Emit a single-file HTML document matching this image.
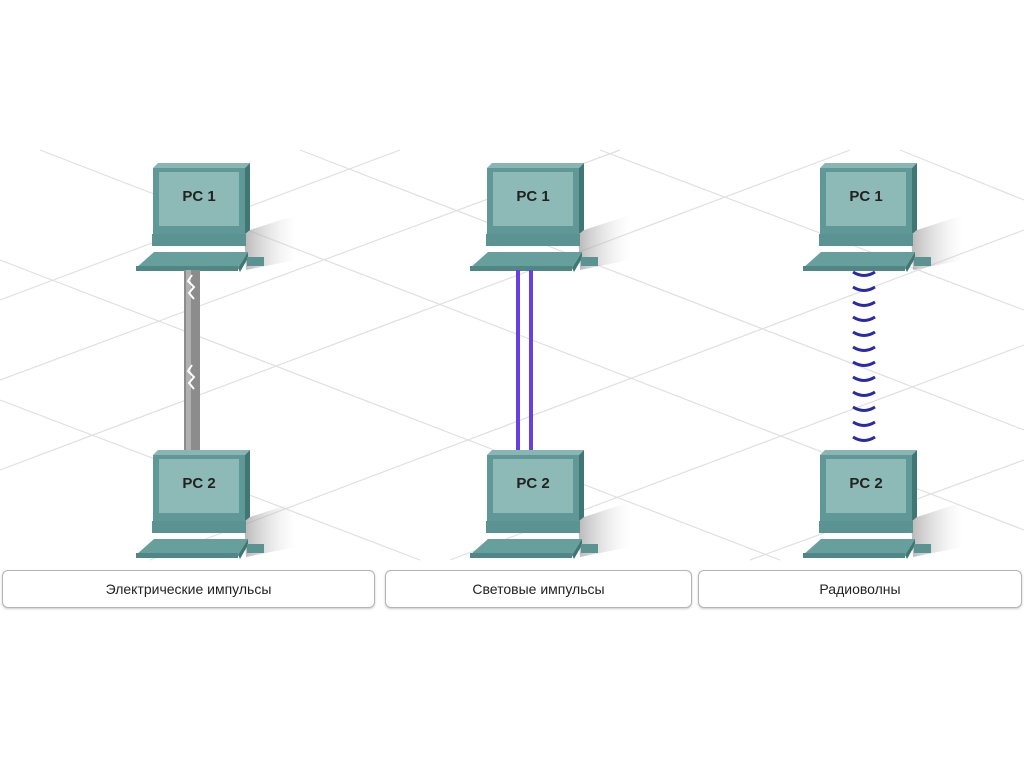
<!DOCTYPE html>
<html><head><meta charset="utf-8"><style>
body{margin:0;background:#fff;width:1024px;height:767px;overflow:hidden;font-family:"Liberation Sans",sans-serif}
.lb{position:absolute;top:570px;height:36px;border:1px solid #b5b5b5;border-radius:6px;background:#fff;box-shadow:0 1px 2px #ccc;font-size:14px;color:#222;display:flex;align-items:center;justify-content:center}
</style></head><body>
<svg width="1024" height="767" style="position:absolute;left:0;top:0">
<defs>
<linearGradient id="sh" x1="0" x2="1"><stop offset="0" stop-color="#999" stop-opacity=".7"/><stop offset="1" stop-color="#ddd" stop-opacity="0"/></linearGradient>
<g id="pc">
<polygon points="108,232 160,215 160,260 110,270" fill="url(#sh)"/>
<polygon points="17,168 22,163 114,163 109,168" fill="#89b5b2"/>
<polygon points="109,168 114,163 114,230 109,234" fill="#3f7775"/>
<rect x="17" y="168" width="92" height="66" fill="#5f9896"/>
<rect x="23" y="172" width="80" height="54" fill="#8dbab7"/>
<rect x="16" y="234" width="94" height="12" fill="#5a9391"/>
<polygon points="0,268 18,252 112,252 102,268" fill="#679f9d"/>
<polygon points="102,268 112,252 112,258 104,272" fill="#3f7775"/>
<rect x="0" y="266" width="102" height="5" fill="#4e8785"/>
<rect x="111" y="257" width="17" height="9" fill="#5a9391"/>
</g>
</defs>
<g stroke="#e0e0e0" stroke-width="1.2" fill="none">
<path d="M0,300 L400,150 M0,470 L850,150 M150,560 L1024,230 M450,560 L1024,345 M750,560 L1024,460 M0,380 L620,150"/>
<path d="M40,150 L1024,530 M300,150 L1024,430 M600,150 L1024,310 M0,260 L780,560 M0,400 L420,560 M900,150 L1024,200"/>
</g>
<use href="#pc" x="136" y="0"/><use href="#pc" x="470" y="0"/><use href="#pc" x="803" y="0"/>
<use href="#pc" x="136" y="287"/><use href="#pc" x="470" y="287"/><use href="#pc" x="803" y="287"/>
<rect x="184" y="270" width="16" height="180" fill="#8c8c8c"/>
<rect x="186" y="270" width="5" height="180" fill="#b0b0b0"/>
<path d="M192,275 l-4,6 l6,6 l-5,6 l5,6 M192,365 l-4,6 l6,6 l-5,6 l5,6" stroke="#fff" stroke-width="2" fill="none"/>
<rect x="516" y="270" width="4" height="180" fill="#6a3fe0"/>
<rect x="529" y="270" width="4" height="180" fill="#6a3fe0"/>
<g stroke="#2a2aa8" stroke-width="3" fill="none">
<path d="M853,272 q11,7 22,0 M853,287 q11,7 22,0 M853,302 q11,7 22,0 M853,317 q11,7 22,0 M853,332 q11,7 22,0 M853,347 q11,7 22,0 M853,362 q11,7 22,0 M853,377 q11,7 22,0 M853,392 q11,7 22,0 M853,407 q11,7 22,0 M853,422 q11,7 22,0 M853,437 q11,7 22,0"/>
</g>
<g font-family="Liberation Sans,sans-serif" font-size="15" font-weight="bold" fill="#222" text-anchor="middle">
<text x="199" y="201">PC 1</text><text x="533" y="201">PC 1</text><text x="866" y="201">PC 1</text>
<text x="199" y="488">PC 2</text><text x="533" y="488">PC 2</text><text x="866" y="488">PC 2</text>
</g>
</svg>
<div class="lb" style="left:2px;width:371px">Электрические импульсы</div>
<div class="lb" style="left:385px;width:305px">Световые импульсы</div>
<div class="lb" style="left:698px;width:322px">Радиоволны</div>
</body></html>
